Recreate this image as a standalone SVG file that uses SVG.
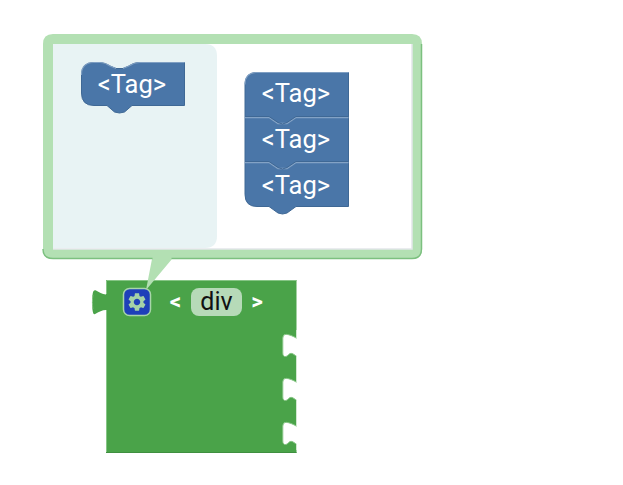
<svg xmlns="http://www.w3.org/2000/svg" width="623" height="485" viewBox="0 0 623 485">
<style>
text{font-family:Roboto,"Liberation Sans",sans-serif}
.tag{fill:#4a76a8;stroke:#3f6895;stroke-width:1}
.hl{fill:none;stroke:#7f9fc3;stroke-width:1.200}
.lbl{fill:#fff;font-size:25.500px;text-anchor:middle}
.op{fill:#fff;font-size:22.500px;font-weight:700;text-anchor:middle}
.edge{fill:none;stroke:#86c585;stroke-width:1}
</style>
<defs>
<path id="gear" d="M19.14,12.94c0.04-0.3,0.06-0.61,0.06-0.94c0-0.32-0.02-0.64-0.07-0.94l2.03-1.58c0.18-0.14,0.23-0.41,0.12-0.61l-1.92-3.32c-0.12-0.22-0.37-0.29-0.59-0.22l-2.39,0.96c-0.5-0.38-1.03-0.7-1.62-0.94L14.4,2.81c-0.04-0.24-0.24-0.41-0.48-0.41h-3.84c-0.24,0-0.43,0.17-0.47,0.41L9.25,5.35C8.66,5.59,8.12,5.92,7.63,6.29L5.24,5.33c-0.22-0.08-0.47,0-0.59,0.22L2.74,8.87C2.62,9.08,2.66,9.34,2.86,9.48l2.03,1.58C4.84,11.36,4.8,11.69,4.8,12s0.02,0.64,0.07,0.94l-2.03,1.58c-0.18,0.14-0.23,0.41-0.12,0.61l1.92,3.32c0.12,0.22,0.37,0.29,0.59,0.22l2.39-0.96c0.5,0.38,1.03,0.7,1.62,0.94l0.36,2.54c0.05,0.24,0.24,0.41,0.48,0.41h3.84c0.24,0,0.44-0.17,0.47-0.41l0.36-2.54c0.59-0.24,1.13-0.56,1.62-0.94l2.39,0.96c0.22,0.08,0.47,0,0.59-0.22l1.92-3.32c0.12-0.22,0.07-0.47-0.12-0.61L19.14,12.94z M12,15.6c-1.98,0-3.6-1.62-3.6-3.6s1.62-3.6,3.6-3.6s3.6,1.62,3.6,3.6S13.98,15.6,12,15.6z"/>
<path id="notch" d="M297,338.500C293,336 289,334.500 286,334.300Q282.800,334.300 282.800,338V353Q282.800,357 286,356.500C288,356 289,353.300 291,353.300C293,353.300 295,355.500 297,356.500"/>
</defs>

<g id="div-block">
<path d="M106,280H296.500V453H106V310C102,310 99,312 96,313.500C94,315 93,314 92.500,310C91.800,305 91.800,300 92.500,295C93,291 94,289.800 96,290.500C99,292 102,294 106,294.500Z" fill="#4aa349"/>
<use href="#notch" fill="#fff"/>
<use href="#notch" y="44" fill="#fff"/>
<use href="#notch" y="88" fill="#fff"/>
<use href="#notch" class="edge"/>
<use href="#notch" y="44" class="edge"/>
<use href="#notch" y="88" class="edge"/>
<rect x="296.500" y="330" width="2" height="120" fill="#fff"/>
<path d="M106,452.500H296.500" fill="none" stroke="#3f8f40" stroke-width="1.200"/>
<path class="edge" d="M106.500,310V452M106.500,294V280.500H296.500M92.800,309C92.300,305 92.300,300 92.800,295"/>
</g>

<g id="bubble">
<path d="M43,44Q43,34 53,34H412Q422,34 422,44V249Q422,259 412,259H172L146,290L152,259H53Q43,259 43,249Z" fill="#b3e0b3"/>
<path d="M43,249Q43,258.500 53,258.500H152.500M171.500,258.500H412Q421.500,258.500 421.500,249V44" fill="none" stroke="#7cc07f" stroke-width="1.500"/>
<rect x="53" y="44" width="359" height="205" fill="#fff"/>
<path d="M412,44V249H53" fill="none" stroke="#e4e6ea" stroke-width="1.500"/>
<path d="M53,44H205Q217,44 217,56V236Q217,248 205,248H53Z" fill="#e8f3f4"/>
</g>

<g id="tag-single">
<path class="tag" d="M94,62.500H98C103,62.500 107,64 110,66L116,68.500H123L129,66C132,64 135,62.500 140,62.500H184.500V105.500H132L124.500,112L119.500,113L114.500,112L107,105.500H94Q81.500,105.500 81.500,93V75Q81.500,62.500 94,62.500Z"/>
<path class="hl" d="M81.500,75Q81.500,62.500 94,62.500H100C104,62.500 107,64 110,66L116,68.500M123,68.500L129,66C132,64 135,62.500 140,62.500H184.500"/>
<text class="lbl" x="132" y="92.500">&lt;Tag&gt;</text>
</g>

<g id="tag-stack">
<path class="tag" d="M257,72.500H348.500V206.500H296L287,213L282.500,214L278,213L269,206.500H257Q245,206.500 245,194.500V84.500Q245,72.500 257,72.500Z"/>
<path class="hl" d="M245,84.500Q245,72.500 257,72.500H348.500"/>
<path d="M245,117.500H269L278,123.500H287L296,117.500H348.500M245,162.500H269L278,168.500H287L296,162.500H348.500" fill="none" stroke="#83a2c5" stroke-width="1.500"/>
<path d="M245,116.500H269L278,122.500L282.500,124L287,122.500L296,116.500H348.500M245,161.500H269L278,167.500L282.500,169L287,167.500L296,161.500H348.500" fill="none" stroke="#3f6895" stroke-width="1"/>
<text class="lbl" x="296" y="102">&lt;Tag&gt;</text>
<text class="lbl" x="296" y="148">&lt;Tag&gt;</text>
<text class="lbl" x="296" y="193.500">&lt;Tag&gt;</text>
</g>

<g id="gear-icon">
<rect x="123.500" y="288.500" width="27" height="27" rx="6" fill="#1e40b9" stroke="#a8d5aa" stroke-width="1.500"/>
<use href="#gear" transform="translate(126.200,291.200) scale(0.9)" fill="#a5d2a7"/>
</g>

<g id="div-label">
<text class="op" x="175.500" y="309">&lt;</text>
<rect x="191" y="288" width="51" height="28" rx="8" fill="#b6dab8"/>
<text x="216.500" y="310" font-size="25" text-anchor="middle" fill="#111">div</text>
<text class="op" x="257" y="309">&gt;</text>
</g>
<g id="connectors"/>
</svg>
